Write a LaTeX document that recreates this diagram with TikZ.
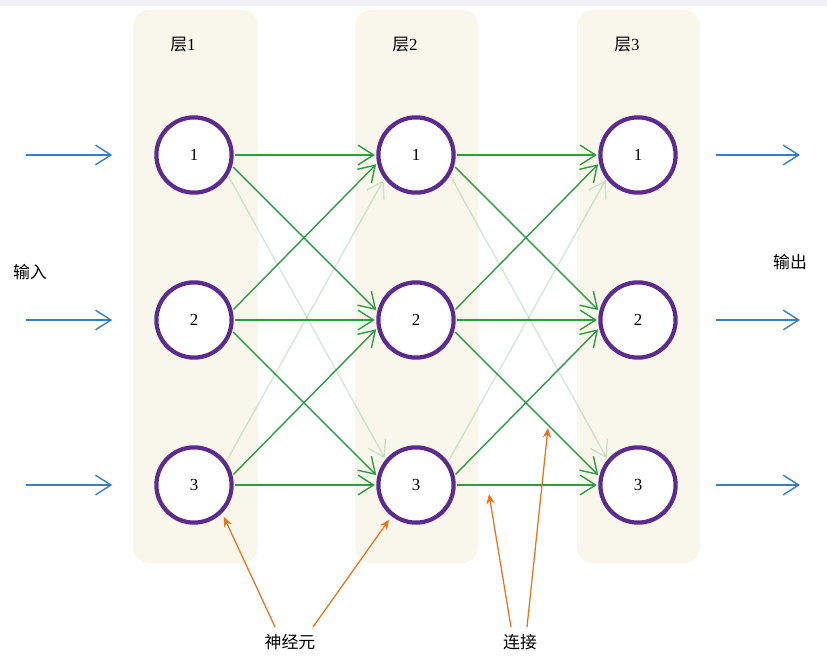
\documentclass[tikz,border=0pt]{standalone}
\usepackage{fontspec}
\setmainfont{Liberation Serif}
\newfontfamily\cjk{Noto Sans CJK SC}
\usepackage{xcolor}
\usetikzlibrary{arrows.meta, positioning}

\definecolor{layerbg}{HTML}{F9F7EC}
\definecolor{topgray}{HTML}{F0F1F3}
\definecolor{neuronpurple}{HTML}{5B2C8E}
\definecolor{linkgreen}{HTML}{2E9B45}
\definecolor{ioblue}{HTML}{3A7DC2}
\definecolor{noteorange}{HTML}{E8731E}

\begin{document}
\begin{tikzpicture}[x=0.025cm, y=-0.025cm, >=Stealth,
		neuron/.style={circle, draw=neuronpurple, line width=3pt, fill=white,
			minimum size=1.88cm, inner sep=0pt, font=\large},
		link/.style={linkgreen, line width=1pt, shorten <=1pt, shorten >=1pt,
			-{Straight Barb[length=11pt, width=14pt]}},
		faintlink/.style={link, draw opacity=0.22},
		ioarrow/.style={ioblue, line width=1pt, -{Straight Barb[length=11pt, width=14pt]}},
		note/.style={noteorange, line width=0.9pt, -{Stealth[length=7pt, width=6pt]}},
		lbl/.style={font=\cjk\large, inner sep=1pt}]
		
		% 1. 画布与背景
		\useasboundingbox (0,0) rectangle (827,669);
		\fill[white] (0,0) rectangle (827,669);
		\fill[topgray] (0,0) rectangle (827,6);
		
		% 2. 三个层的背景条
		\fill[layerbg, rounded corners=0.4cm] (133,10) rectangle (258,563);
		\fill[layerbg, rounded corners=0.4cm] (355,10) rectangle (478,563);
		\fill[layerbg, rounded corners=0.4cm] (577,10) rectangle (700,563);
		
		% 3. 层标题
		\node[lbl] (layerA) at (183,45) {层\rmfamily 1};
		\node[lbl] (layerB) at (405,45) {层\rmfamily 2};
		\node[lbl] (layerC) at (627,45) {层\rmfamily 3};
		
		% 4. 神经元
		\node[neuron] (a1) at (194,155) {1};
		\node[neuron] (a2) at (194,320) {2};
		\node[neuron] (a3) at (194,485) {3};
		\node[neuron] (b1) at (416,155) {1};
		\node[neuron] (b2) at (416,320) {2};
		\node[neuron] (b3) at (416,485) {3};
		\node[neuron] (c1) at (638,155) {1};
		\node[neuron] (c2) at (638,320) {2};
		\node[neuron] (c3) at (638,485) {3};
		
		% 5. 层1 -> 层2 的连接
		\draw[faintlink] (a1.-31) -- (b3.140);
		\draw[faintlink] (a3.36) -- (b1.217);
		\draw[link] (a1) -- (b1);
		\draw[link] (a1.-16) -- (b2.167);
		\draw[link] (a2.14) -- (b1.192);
		\draw[link] (a2) -- (b2);
		\draw[link] (a2.-16) -- (b3.167);
		\draw[link] (a3.14) -- (b2.192);
		\draw[link] (a3) -- (b3);
		
		% 6. 层2 -> 层3 的连接
		\draw[faintlink] (b1.-31) -- (c3.140);
		\draw[faintlink] (b3.36) -- (c1.217);
		\draw[link] (b1) -- (c1);
		\draw[link] (b1.-16) -- (c2.167);
		\draw[link] (b2.14) -- (c1.192);
		\draw[link] (b2) -- (c2);
		\draw[link] (b2.-16) -- (c3.167);
		\draw[link] (b3.14) -- (c2.192);
		\draw[link] (b3) -- (c3);
		
		% 7. 输入与输出
		\node[lbl] (inLbl) at (30,272) {输入};
		\node[lbl] (outLbl) at (790,262) {输出};
		\coordinate (in1) at (26,155);
		\coordinate (in2) at (26,320);
		\coordinate (in3) at (26,485);
		\coordinate (out1) at (800,155);
		\coordinate (out2) at (800,320);
		\coordinate (out3) at (800,485);
		\draw[ioarrow, shorten >=1.05cm] (in1) -- (a1);
		\draw[ioarrow, shorten >=1.05cm] (in2) -- (a2);
		\draw[ioarrow, shorten >=1.05cm] (in3) -- (a3);
		\draw[ioarrow, shorten <=0.95cm] (c1) -- (out1);
		\draw[ioarrow, shorten <=0.95cm] (c2) -- (out2);
		\draw[ioarrow, shorten <=0.95cm] (c3) -- (out3);
		
		% 8. 注释标签与箭头
		\node[lbl] (neuronLbl) at (290,642) {神经元};
		\node[lbl] (linkLbl) at (520,642) {连接};
		\coordinate (nStartA) at (275,627);
		\coordinate (nStartB) at (313,627);
		\coordinate (lStartA) at (511,627);
		\coordinate (lStartB) at (527,627);
		\coordinate (lEndA) at (489,494);
		\coordinate (lEndB) at (548,428);
		\draw[note, shorten >=3pt] (nStartA) -- (a3.-45);
		\draw[note, shorten >=3pt] (nStartB) -- (b3.-128);
		\draw[note] (lStartA) -- (lEndA);
		\draw[note] (lStartB) -- (lEndB);
		
	\end{tikzpicture}
\end{document}
